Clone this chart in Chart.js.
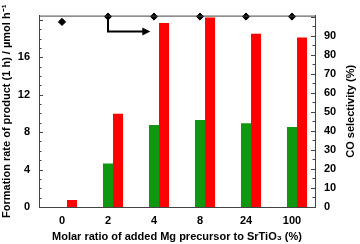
<!DOCTYPE html>
<html>
<head>
<meta charset="utf-8">
<script src="https://cdn.jsdelivr.net/npm/chart.js@4"></script>
<style>
  html, body { margin: 0; padding: 0; background: #fff; }
</style>
</head>
<body>
<canvas id="mgChart" width="360" height="244"></canvas>
<script>
// Mg precursor ratio (%) vs formation rate and CO selectivity
var ratios = ['0', '2', '4', '8', '24', '100'];
var greenRate = [null, 4.65, 8.75, 9.3, 8.95, 8.55];
var redRate = [0.75, 9.95, 19.65, 20.25, 18.5, 18.1];
var coSelectivity = [97.2, 100, 100, 100, 100, 100];
var rightTitle = 'CO selectivity (%)';

var fontBold = { family: 'Liberation Sans, Arial, sans-serif', size: 11, weight: 'bold' };
var frameColor = '#444';

// inward tick marks, top frame line, right title and the arrow pointing to the right axis
var framePlugin = {
    id: 'framePlugin',
    afterDraw: function (chart) {
        var ctx = chart.ctx;
        var area = chart.chartArea;
        var y = chart.scales.y, y1 = chart.scales.y1, x = chart.scales.x;
        ctx.save();
        ctx.strokeStyle = frameColor;
        ctx.lineWidth = 1;
        ctx.beginPath();
        ctx.moveTo(area.left, area.top + 0.5);
        ctx.lineTo(area.right, area.top + 0.5);
        for (var v = 0; v <= 20; v++) {
            var py = Math.round(y.getPixelForValue(v)) + 0.5;
            ctx.moveTo(area.left, py);
            ctx.lineTo(area.left + (v % 4 === 0 ? 4 : 2.5), py);
        }
        for (var w = 0; w <= 100; w += 5) {
            var qy = Math.round(y1.getPixelForValue(w)) + 0.5;
            ctx.moveTo(area.right, qy);
            ctx.lineTo(area.right - (w % 10 === 0 ? 4 : 2.5), qy);
        }
        ctx.stroke();

        // right axis title, read bottom to top
        ctx.save();
        ctx.translate(351, (area.top + area.bottom) / 2);
        ctx.rotate(-Math.PI / 2);
        ctx.fillStyle = '#000';
        ctx.font = 'bold 11px "Liberation Sans", Arial, sans-serif';
        ctx.textAlign = 'center';
        ctx.textBaseline = 'middle';
        ctx.fillText(rightTitle, 0, 0);
        ctx.restore();

        // arrow from the diamond at "2" towards the right axis
        var ax = x.getPixelForValue(1);
        var ay = y1.getPixelForValue(100);
        var by = y1.getPixelForValue(92.2);
        var bx = x.getPixelForValue(1.92);
        ctx.strokeStyle = '#000';
        ctx.fillStyle = '#000';
        ctx.lineWidth = 2;
        ctx.beginPath();
        ctx.moveTo(ax, ay);
        ctx.lineTo(ax, by);
        ctx.lineTo(bx - 7, by);
        ctx.stroke();
        ctx.beginPath();
        ctx.moveTo(bx, by);
        ctx.lineTo(bx - 8, by - 4);
        ctx.lineTo(bx - 8, by + 4);
        ctx.closePath();
        ctx.fill();
        ctx.restore();
    }
};

new Chart(document.getElementById('mgChart'), {
    data: {
        labels: ratios,
        datasets: [
            { type: 'line', label: 'CO selectivity', data: coSelectivity, yAxisID: 'y1',
              showLine: false, pointStyle: 'rectRot', pointRadius: 3.6,
              pointBackgroundColor: '#000', pointBorderColor: '#000', clip: false, order: 0 },
            { type: 'bar', label: 'spacer', data: [null, null, null, null, null, null], yAxisID: 'y', order: 1 },
            { type: 'bar', label: 'green', data: greenRate, yAxisID: 'y', backgroundColor: '#0f980f', order: 1 },
            { type: 'bar', label: 'red', data: redRate, yAxisID: 'y', backgroundColor: '#ff0000', order: 1 }
        ]
    },
    options: {
        responsive: false,
        animation: false,
        layout: { padding: { top: 9, left: 0, right: 0, bottom: 0 } },
        datasets: { bar: { categoryPercentage: 0.655, barPercentage: 1 } },
        plugins: { legend: { display: false }, tooltip: { enabled: false } },
        scales: {
            x: {
                grid: { display: false, drawTicks: false },
                border: { display: true, color: frameColor, width: 1 },
                ticks: { color: '#000', font: fontBold, padding: 7 },
                title: { display: true, text: 'Molar ratio of added Mg precursor to SrTiO₃ (%)',
                         color: '#000', font: fontBold, padding: 0 },
                afterFit: function (s) { s.height = 37; }
            },
            y: {
                position: 'left', min: 0, max: 20.45,
                grid: { display: false, drawTicks: false },
                border: { display: true, color: frameColor, width: 1 },
                ticks: { stepSize: 4, color: '#000', font: fontBold, padding: 9,
                         callback: function (v) { return v % 4 === 0 ? v : null; } },
                title: { display: true, text: 'Formation rate of product (1 h) / µmol h⁻¹',
                         color: '#000', font: fontBold, padding: 0 },
                afterFit: function (s) { s.width = 39; }
            },
            y1: {
                position: 'right', min: 0, max: 100.5,
                grid: { display: false, drawTicks: false },
                border: { display: true, color: frameColor, width: 1 },
                ticks: { stepSize: 10, color: '#000', font: fontBold, padding: 9,
                         callback: function (v) { return v % 10 === 0 ? v : null; } },
                afterFit: function (s) { s.width = 45; }
            }
        }
    },
    plugins: [framePlugin]
});
</script>
</body>
</html>
